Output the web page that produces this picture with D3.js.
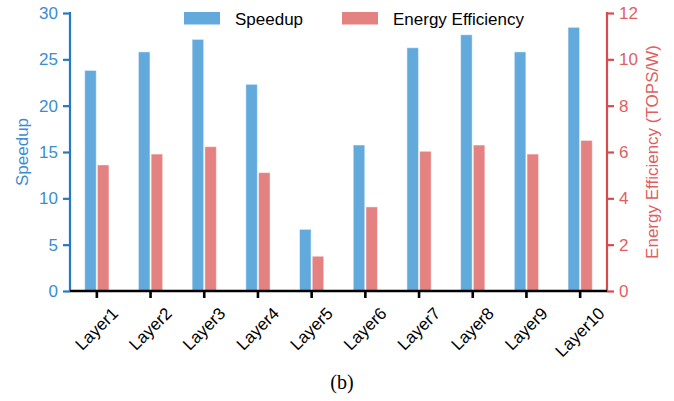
<!DOCTYPE html>
<html>
<head>
<meta charset="utf-8">
<script src="https://cdn.jsdelivr.net/npm/d3@7"></script>
<style>
  body { margin: 0; background: #fff; }
  svg { font-family: "Liberation Sans", Arial, sans-serif; }
</style>
</head>
<body>
<div id="chart"></div>
<script>
// data
var layers = ["Layer1", "Layer2", "Layer3", "Layer4", "Layer5", "Layer6", "Layer7", "Layer8", "Layer9", "Layer10"];
var speedup = [23.8, 25.8, 27.15, 22.3, 6.65, 15.75, 26.25, 27.65, 25.8, 28.45];
var energy = [5.44, 5.91, 6.23, 5.11, 1.5, 3.63, 6.03, 6.3, 5.91, 6.5];
var leftTicks = [0, 5, 10, 15, 20, 25, 30];
var rightTicks = [0, 2, 4, 6, 8, 10, 12];

var width = 674, height = 401;
var plotLeft = 70, plotRight = 607, plotTop = 13, plotBottom = 291;

var blue = "#62a9dc", red = "#e48181";
var blueAxis = "#2479c0", blueText = "#3a8dd3";
var redAxis = "#d84b4d", redText = "#e0605f";

var svg = d3.select("#chart").append("svg")
    .attr("width", width).attr("height", height);

var x = d3.scaleBand().domain(layers).range([plotLeft, plotRight]).padding(0);
var yL = d3.scaleLinear().domain([0, 30]).range([plotBottom, plotTop]);
var yR = d3.scaleLinear().domain([0, 12]).range([plotBottom, plotTop]);

var barW = 11.5, gap = 1.2;

//Speedup bars
svg.selectAll("rect.sp").data(speedup).enter().append("rect")
    .attr("class", "sp")
    .attr("x", function (d, i) { return x(layers[i]) + x.bandwidth() / 2 - gap / 2 - barW; })
    .attr("y", function (d) { return yL(d); })
    .attr("width", barW)
    .attr("height", function (d) { return plotBottom - yL(d); })
    .attr("fill", blue)
    .attr("stroke", "#fff").attr("stroke-opacity", 0.45).attr("stroke-width", 1);

//Energy bars
svg.selectAll("rect.en").data(energy).enter().append("rect")
    .attr("class", "en")
    .attr("x", function (d, i) { return x(layers[i]) + x.bandwidth() / 2 + gap / 2; })
    .attr("y", function (d) { return yR(d); })
    .attr("width", barW)
    .attr("height", function (d) { return plotBottom - yR(d); })
    .attr("fill", red)
    .attr("stroke", "#fff").attr("stroke-opacity", 0.45).attr("stroke-width", 1);

//Left axis
var gL = svg.append("g").attr("transform", "translate(" + plotLeft + ",0)")
    .call(d3.axisLeft(yL).tickValues(leftTicks).tickSize(7).tickPadding(5));
gL.select(".domain").attr("stroke", blueAxis).attr("stroke-width", 2.2)
    .attr("d", "M0," + (plotTop - 1) + "V" + plotBottom);
gL.selectAll(".tick line").attr("stroke", blueAxis).attr("stroke-width", 2.2);
gL.selectAll(".tick text").attr("fill", blueText).style("font-size", "17px")
    .style("font-family", "Liberation Sans, Arial, sans-serif");

//Right axis
var gR = svg.append("g").attr("transform", "translate(" + plotRight + ",0)")
    .call(d3.axisRight(yR).tickValues(rightTicks).tickSize(7).tickPadding(5));
gR.select(".domain").attr("stroke", redAxis).attr("stroke-width", 2.2)
    .attr("d", "M0," + (plotTop - 1) + "V" + plotBottom);
gR.selectAll(".tick line").attr("stroke", redAxis).attr("stroke-width", 2.2);
gR.selectAll(".tick text").attr("fill", redText).style("font-size", "17px")
    .style("font-family", "Liberation Sans, Arial, sans-serif");

//Bottom axis
var gB = svg.append("g").attr("transform", "translate(0," + plotBottom + ")")
    .call(d3.axisBottom(x).tickSize(7).tickFormat(""));
gB.select(".domain").attr("stroke", "#000").attr("stroke-width", 2.6)
    .attr("d", "M" + plotLeft + ",0H" + plotRight);
gB.selectAll(".tick line").attr("stroke", "#000").attr("stroke-width", 2.6);

//Rotated category labels, centred under each tick
var labelTop = 306;
var labs = svg.selectAll("text.xl").data(layers).enter().append("text")
    .attr("class", "xl")
    .attr("text-anchor", "middle")
    .attr("dominant-baseline", "central")
    .style("font-size", "17px")
    .attr("fill", "#000")
    .text(function (d) { return d; });
labs.attr("transform", function (d) {
    var w = this.getComputedTextLength();
    var h = (w + 13) * Math.SQRT1_2;
    var cx = x(d) + x.bandwidth() / 2;
    return "translate(" + cx + "," + (labelTop + h / 2) + ") rotate(-45)";
});

//Axis titles
svg.append("text")
    .attr("transform", "translate(28,152) rotate(-90)")
    .attr("text-anchor", "middle")
    .attr("fill", blueText)
    .style("font-size", "17px")
    .text("Speedup");

svg.append("text")
    .attr("transform", "translate(658,152) rotate(-90)")
    .attr("text-anchor", "middle")
    .attr("fill", redText)
    .style("font-size", "17px")
    .text("Energy Efficiency (TOPS/W)");

//Legend
var legend = [{ name: "Speedup", color: blue, x: 184 }, { name: "Energy Efficiency", color: red, x: 342 }];
var lg = svg.selectAll("g.lg").data(legend).enter().append("g")
    .attr("class", "lg")
    .attr("transform", function (d) { return "translate(" + d.x + ",12)"; });
lg.append("rect").attr("width", 36).attr("height", 12.5).attr("fill", function (d) { return d.color; });
lg.append("text").attr("x", 51).attr("y", 12.5)
    .style("font-size", "17px").attr("fill", "#000")
    .text(function (d) { return d.name; });

//Caption
svg.append("text")
    .attr("x", 342).attr("y", 389)
    .attr("text-anchor", "middle")
    .style("font-family", "Liberation Serif, Times New Roman, serif")
    .style("font-size", "20px")
    .text("(b)");
</script>
</body>
</html>
